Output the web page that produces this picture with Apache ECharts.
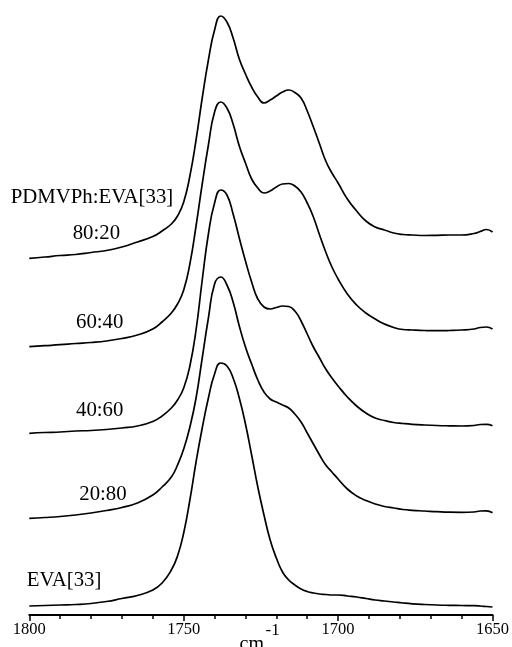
<!DOCTYPE html>
<html>
<head>
<meta charset="utf-8">
<script src="https://cdn.jsdelivr.net/npm/echarts@6/dist/echarts.min.js"></script>
<style>
  html, body { margin: 0; padding: 0; background: #fff; }
  #chart { width: 512px; height: 647px; }
</style>
</head>
<body>
<div id="chart"></div>
<script>
// Wavenumbers (cm-1) at which the spectra were read
const wavenumbers = [1800,1795,1790,1785,1780,1775,1770,1765,1760,1757,1754,1752,1750,1748,1746,1744,1742,1740,1738,1736,1734,1732,1730,1728,1726,1724,1722,1720,1718,1716,1714,1712,1710,1708,1706,1704,1702,1700,1697,1694,1691,1688,1685,1682,1679,1676,1672,1668,1664,1660,1656,1654,1652,1650];

// Stacked absorbance traces (arbitrary units, offset as in the figure)
const s80_20 = [3.567,3.58,3.595,3.605,3.625,3.645,3.68,3.73,3.785,3.84,3.91,3.99,4.13,4.39,4.75,5.17,5.55,5.85,5.99,5.93,5.77,5.56,5.41,5.28,5.18,5.12,5.15,5.19,5.23,5.25,5.225,5.17,5.04,4.88,4.71,4.54,4.42,4.32,4.16,4.04,3.94,3.88,3.85,3.82,3.805,3.80,3.795,3.797,3.80,3.80,3.815,3.835,3.855,3.83];
const s60_40 = [2.683,2.693,2.703,2.715,2.725,2.74,2.765,2.80,2.86,2.93,3.02,3.11,3.25,3.51,3.89,4.31,4.70,5.03,5.13,5.07,4.91,4.69,4.52,4.36,4.27,4.22,4.24,4.28,4.31,4.315,4.29,4.23,4.12,3.98,3.80,3.63,3.48,3.36,3.21,3.10,3.02,2.96,2.91,2.875,2.855,2.85,2.845,2.843,2.845,2.85,2.86,2.875,2.88,2.86];
const s40_60 = [1.817,1.825,1.83,1.84,1.845,1.855,1.87,1.89,1.935,1.99,2.07,2.15,2.27,2.49,2.85,3.35,3.81,4.12,4.25,4.20,4.01,3.77,3.54,3.33,3.16,3.08,3.06,3.075,3.09,3.085,3.04,2.94,2.81,2.68,2.57,2.46,2.37,2.29,2.18,2.09,2.02,1.97,1.945,1.925,1.915,1.907,1.90,1.895,1.892,1.89,1.895,1.905,1.907,1.893];
const s20_80 = [0.967,0.975,0.985,1.00,1.02,1.045,1.075,1.12,1.20,1.28,1.38,1.50,1.66,1.88,2.17,2.57,2.97,3.31,3.38,3.30,3.13,2.89,2.68,2.51,2.35,2.23,2.16,2.13,2.10,2.07,2.01,1.93,1.82,1.71,1.60,1.50,1.43,1.36,1.26,1.19,1.145,1.11,1.085,1.07,1.055,1.047,1.04,1.033,1.028,1.027,1.03,1.04,1.042,1.023];
const sEVA = [0.09,0.095,0.10,0.105,0.115,0.135,0.165,0.195,0.25,0.32,0.45,0.59,0.82,1.15,1.53,1.87,2.17,2.41,2.52,2.49,2.37,2.17,1.91,1.60,1.28,1.00,0.75,0.57,0.43,0.35,0.30,0.26,0.235,0.22,0.21,0.205,0.20,0.20,0.19,0.18,0.165,0.15,0.14,0.13,0.12,0.112,0.105,0.10,0.097,0.095,0.093,0.09,0.085,0.08];

const seriesNames = ['80:20','60:40','40:60','20:80','EVA[33]'];
const seriesValues = [s80_20, s60_40, s40_60, s20_80, sEVA];

// Axis tick labels
const tickLabels = [1800, 1750, 1700, 1650];

// Annotation texts
const labelTexts = ['PDMVPh:EVA[33]','80:20','60:40','40:60','20:80','EVA[33]'];
const labelPos = [[10.7,197.5],[72.7,233.3],[76,322.5],[76,411],[79.3,495],[26.7,581]];

const chart = echarts.init(document.getElementById('chart'), null, {renderer: 'canvas'});
const FONT = '"Liberation Serif", "Times New Roman", serif';

function txt(t, x, y, size) {
  return {
    type: 'text', x: x, y: y,
    style: {
      text: t, font: size + 'px ' + FONT, fill: '#000',
      align: 'left', verticalAlign: 'middle',
      textAlign: 'left', textVerticalAlign: 'middle'
    }
  };
}
const graphics = labelTexts.map((t, i) => txt(t, labelPos[i][0], labelPos[i][1], 20.8));
graphics.push(txt('cm', 239.5, 645, 20));
graphics.push(txt('-1', 265.5, 631, 17));

chart.setOption({
  animation: false,
  backgroundColor: '#fff',
  grid: { left: 29.3, right: 18.7, top: 15, bottom: 32 },
  xAxis: {
    type: 'value', inverse: true, min: 1650, max: 1800, interval: 50,
    axisLine: { show: true, lineStyle: { color: '#000', width: 2 } },
    axisTick: { show: true, length: 6, lineStyle: { color: '#000', width: 1.5 } },
    minorTick: { show: true, splitNumber: 5, length: 4, lineStyle: { color: '#000', width: 1.5 } },
    splitLine: { show: false },
    axisLabel: {
      margin: 6, color: '#000', fontFamily: FONT, fontSize: 16.5,
      formatter: v => tickLabels.indexOf(v) >= 0 ? String(v) : ''
    }
  },
  yAxis: { type: 'value', min: 0, max: 6, show: false },
  series: seriesValues.map((vals, i) => ({
    name: seriesNames[i],
    type: 'line',
    smooth: 0.5,
    showSymbol: false,
    lineStyle: { color: '#000', width: 1.7 },
    data: wavenumbers.map((w, j) => [w, vals[j]])
  })),
  graphic: graphics
});
</script>
</body>
</html>
